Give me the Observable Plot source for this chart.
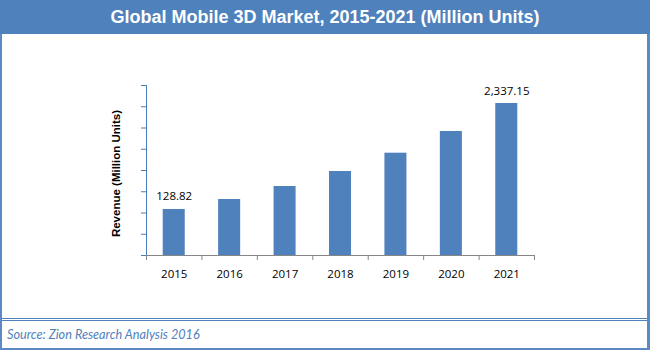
<!DOCTYPE html>
<html>
<head>
<meta charset="utf-8">
<script src="https://cdn.jsdelivr.net/npm/d3@7"></script>
<script src="https://cdn.jsdelivr.net/npm/@observablehq/plot@0.6"></script>
<style>
  html, body { margin: 0; padding: 0; background: #fff; }
  #wrap { position: relative; width: 650px; height: 350px; overflow: hidden; background: #fff; }
  #title { position: absolute; left: 0; top: 0; width: 650px; height: 34px; background: #4F81BD; color: #fff;
           font: bold 18px "Liberation Sans", Arial, sans-serif; line-height: 34px; text-align: center; }
  #chart { position: absolute; left: 0; top: 34px; }
  #sep { position: absolute; left: 0; top: 318px; width: 650px; height: 1px; border-top: 1.5px solid #4F81BD; border-bottom: 1.5px solid #4F81BD; }
  #source { position: absolute; left: 7px; top: 325.5px; font: italic 12.7px Lato, sans-serif; line-height: 16px; color: #4F81BD; }
  #frame { position: absolute; left: 0; top: 34px; width: 650px; height: 316px; box-sizing: border-box;
           border-left: 2px solid #5B8AC6; border-right: 3px solid #5B8AC6; border-bottom: 2px solid #5B8AC6; }
</style>
</head>
<body>
<div id="wrap">
  <div id="title">Global Mobile 3D Market, 2015-2021 (Million Units)</div>
  <div id="chart"></div>
  <div id="sep"></div>
  <div id="source">Source: Zion Research Analysis 2016</div>
  <div id="frame"></div>
</div>
<script>
// Data (2015 and 2021 labelled on the chart; the rest)
const years = [2015, 2016, 2017, 2018, 2019, 2020, 2021];
const revenue = [128.82, 169.3, 241.6, 364.1, 600.5, 1087.3, 2337.15];
const labelledYears = [2015, 2021];
const yAxisLabel = "Revenue (Million Units)";
const yDomain = [36.6, 3824];
const yTickCount = 8;

const data = years.map((year, i) => ({year, value: revenue[i]}));
const labelled = data.filter(d => labelledYears.includes(d.year));
const ratio = Math.pow(yDomain[1] / yDomain[0], 1 / yTickCount);
const yTicks = d3.range(yTickCount + 1).map(i => yDomain[0] * Math.pow(ratio, i));
const xDomain = [years[0] - 0.5, years[years.length - 1] + 0.5];
const boundaries = d3.range(xDomain[0], xDomain[1] + 0.01, 1);
const fmt = d3.format(",.2f");

const blue = "#4F81BD";
const axisBlue = "#4A7EBB";
const grey = "#868686";

const chart = Plot.plot({
  width: 650,
  height: 284,
  marginLeft: 146,
  marginRight: 116,
  marginTop: 51,
  marginBottom: 63,
  x: {type: "linear", domain: xDomain, label: null},
  y: {type: "log", domain: yDomain, label: null},
  style: {fontFamily: "'Open Sans', sans-serif", fontSize: "11.5px", color: "#000", background: "transparent", overflow: "visible"},
  marks: [
    Plot.rect(data, {x1: d => d.year - 0.5, x2: d => d.year + 0.5, y1: yDomain[0], y2: "value", insetLeft: 16.7, insetRight: 16.7, fill: blue}),
    Plot.ruleY([yDomain[0]], {stroke: grey, strokeWidth: 1}),
    Plot.frame({anchor: "left", stroke: axisBlue}),
    Plot.axisY({ticks: yTicks, tickFormat: () => "", tickSize: 5, stroke: axisBlue, label: null}),
    Plot.axisX({ticks: boundaries, tickFormat: () => "", tickSize: 5, stroke: grey, label: null}),
    Plot.axisX({ticks: years, tickFormat: d => String(d), tickSize: 0, tickPadding: 14, label: null, fill: "#000"}),
    Plot.text([yAxisLabel], {frameAnchor: "left", textAnchor: "middle", rotate: -90, dx: -30, dy: 3, fontWeight: "bold", fontFamily: "'Liberation Sans', Arial, sans-serif", fontSize: 11.5, fill: "#000"}),
    Plot.text(labelled, {x: "year", y: "value", text: d => fmt(d.value), lineAnchor: "bottom", dy: -9, fill: "#000"})
  ]
});
document.getElementById("chart").appendChild(chart);
</script>
</body>
</html>
